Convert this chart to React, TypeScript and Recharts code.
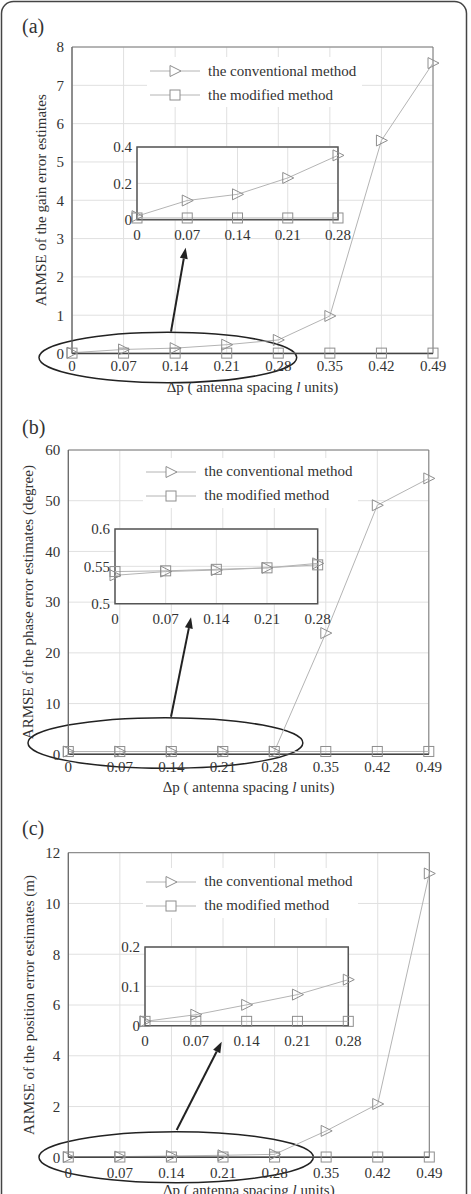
import React from 'react';
import {
  LineChart,
  Line,
  XAxis,
  YAxis,
  CartesianGrid,
  ReferenceArea,
  ReferenceLine,
  Legend,
  Label,
} from 'recharts';

const FONT = '"Liberation Serif", "Times New Roman", Times, serif';
const INK = '#333333';
const GRID = '#e0e0e0';
const SERIES_LINE = '#b4b4b4';
const SERIES_MARK = '#8e8e8e';

// antenna spacing (l units)
const spacing = [0, 0.07, 0.14, 0.21, 0.28, 0.35, 0.42, 0.49];
const zoomSpacing = [0, 0.07, 0.14, 0.21, 0.28];
const seriesNames = ['the conventional method', 'the modified method'];

// (a) gain error
const gainConventional = [0.02, 0.106, 0.14, 0.23, 0.354, 0.98, 5.56, 7.58];
const gainModified = [0.01, 0.01, 0.01, 0.01, 0.01, 0.01, 0.01, 0.01];
const gainTicks = [0, 1, 2, 3, 4, 5, 6, 7, 8];
const gainZoomTicks = [0, 0.2, 0.4];

// (b) phase error (degree)
const phaseConventional = [0.538, 0.543, 0.545, 0.548, 0.554, 23.9, 49.1, 54.4];
const phaseModified = [0.543, 0.544, 0.546, 0.548, 0.552, 0.555, 0.557, 0.56];
const phaseTicks = [0, 10, 20, 30, 40, 50, 60];
const phaseZoomTicks = [0.5, 0.55, 0.6];

// (c) position error (m)
const positionConventional = [0.011, 0.028, 0.053, 0.079, 0.117, 1.04, 2.1, 11.18];
const positionModified = [0.011, 0.011, 0.011, 0.011, 0.011, 0.011, 0.011, 0.011];
const positionTicks = [0, 2, 4, 6, 8, 10, 12];
const positionZoomTicks = [0, 0.1, 0.2];

const makeRows = (conv: number[], mod: number[]) =>
  spacing.map((x, i) => ({ x, conventional: conv[i], modified: mod[i] }));

type Pt = { x: number; y: number };
type Panel = {
  tag: string;
  tagY: number;
  yTitle: string;
  yTitleX: number;
  conventional: number[];
  modified: number[];
  yTicks: number[];
  zoomTicks: number[];
  top: number;
  height: number;
  plot: { left: number; right: number; top: number; bottom: number };
  xTickMargin: number;
  legendTop: number;
  zoom: { left: number; right: number; top: number; bottom: number };
  ring: { x1: number; x2: number; y1: number; y2: number };
  arrow: [Pt, Pt];
};

const panels: Panel[] = [
  {
    tag: '(a)',
    tagY: 33,
    yTitle: 'ARMSE of the gain error estimates',
    yTitleX: 45.5,
    conventional: gainConventional,
    modified: gainModified,
    yTicks: gainTicks,
    zoomTicks: gainZoomTicks,
    top: 0,
    height: 400,
    plot: { left: 72, right: 433, top: 47, bottom: 353.5 },
    xTickMargin: 7,
    legendTop: 57,
    zoom: { left: 136.7, right: 337.7, top: 146.7, bottom: 219.5 },
    ring: { x1: -0.0448, x2: 0.305, y1: -0.762, y2: 0.553 },
    arrow: [
      { x: 0.1344, y: 0.569 },
      { x: 0.1543, y: 2.762 },
    ],
  },
  {
    tag: '(b)',
    tagY: 434.3,
    yTitle: 'ARMSE of the phase error estimates (degree)',
    yTitleX: 33.5,
    conventional: phaseConventional,
    modified: phaseModified,
    yTicks: phaseTicks,
    zoomTicks: phaseZoomTicks,
    top: 400,
    height: 400,
    plot: { left: 68.3, right: 428.8, top: 450, bottom: 754.3 },
    xTickMargin: 7,
    legendTop: 57.7,
    zoom: { left: 115, right: 317.7, top: 529.3, bottom: 604 },
    ring: { x1: -0.0548, x2: 0.3188, y1: -2.76, y2: 7.22 },
    arrow: [
      { x: 0.1396, y: 7.41 },
      { x: 0.1668, y: 27.01 },
    ],
  },
  {
    tag: '(c)',
    tagY: 835,
    yTitle: 'ARMSE of the position error estimates (m)',
    yTitleX: 33.5,
    conventional: positionConventional,
    modified: positionModified,
    yTicks: positionTicks,
    zoomTicks: positionZoomTicks,
    top: 800,
    height: 410,
    plot: { left: 68.3, right: 429.3, top: 852.7, bottom: 1157.3 },
    xTickMargin: 10,
    legendTop: 67.7,
    zoom: { left: 145, right: 348.3, top: 947.3, bottom: 1026 },
    ring: { x1: -0.0398, x2: 0.3326, y1: -1.0, y2: 1.009 },
    arrow: [
      { x: 0.1471, y: 1.076 },
      { x: 0.2082, y: 4.555 },
    ],
  },
];

const tickStyle = { fill: INK, fontSize: 15, fontFamily: FONT };
const fmt = (v: number) => String(v);

function triangleAt(cx: number, cy: number) {
  return `${cx - 5},${cy - 5.5} ${cx - 5},${cy + 5.5} ${cx + 6},${cy}`;
}

const renderTriangle = (p: any) => {
  if (p.cx == null || p.cy == null) return <g key={`t-${p.index}`} />;
  return (
    <polygon
      key={`t-${p.index}`}
      points={triangleAt(p.cx, p.cy)}
      fill="none"
      stroke={SERIES_MARK}
      strokeWidth={1}
    />
  );
};

const renderSquare = (p: any) => {
  if (p.cx == null || p.cy == null) return <g key={`s-${p.index}`} />;
  return (
    <rect
      key={`s-${p.index}`}
      x={p.cx - 5}
      y={p.cy - 5}
      width={10}
      height={10}
      fill="none"
      stroke={SERIES_MARK}
      strokeWidth={1}
    />
  );
};

const RingShape = (p: any) => (
  <ellipse
    cx={p.x + p.width / 2}
    cy={p.y + p.height / 2}
    rx={Math.abs(p.width) / 2}
    ry={Math.abs(p.height) / 2}
    fill="none"
    stroke="#222"
    strokeWidth={1.5}
  />
);

const ArrowShape = (p: any) => {
  const { x1, y1, x2, y2 } = p;
  const dx = x2 - x1;
  const dy = y2 - y1;
  const len = Math.sqrt(dx * dx + dy * dy) || 1;
  const ux = dx / len;
  const uy = dy / len;
  const head = 11;
  const half = 4;
  const bx = x2 - ux * head;
  const by = y2 - uy * head;
  return (
    <g>
      <line x1={x1} y1={y1} x2={bx} y2={by} stroke="#222" strokeWidth={2} />
      <polygon
        points={`${x2},${y2} ${bx - uy * half},${by + ux * half} ${bx + uy * half},${by - ux * half}`}
        fill="#222"
      />
    </g>
  );
};

function LegendBox() {
  return (
    <div
      style={{
        width: '100%',
        height: '100%',
        background: '#fff',
        position: 'relative',
        fontFamily: FONT,
        fontSize: 15,
        color: INK,
      }}
    >
      {seriesNames.map((name, i) => (
        <div
          key={name}
          style={{
            position: 'absolute',
            left: 0,
            top: 2 + i * 24,
            height: 24,
            display: 'flex',
            alignItems: 'center',
            whiteSpace: 'nowrap',
          }}
        >
          <svg width={56} height={24} style={{ display: 'block' }}>
            <line x1={3} y1={12} x2={53} y2={12} stroke={SERIES_LINE} strokeWidth={1} />
            {i === 0 ? (
              <polygon points={triangleAt(28, 12)} fill="#fff" stroke={SERIES_MARK} />
            ) : (
              <rect x={23} y={7} width={10} height={10} fill="#fff" stroke={SERIES_MARK} />
            )}
          </svg>
          <span style={{ marginLeft: 5 }}>{name}</span>
        </div>
      ))}
    </div>
  );
}

function MainChart({ cfg }: { cfg: Panel }) {
  const width = 471;
  const { plot } = cfg;
  const xAxisH = 45;
  const margin = {
    top: plot.top - cfg.top,
    right: width - plot.right,
    left: 0,
    bottom: cfg.top + cfg.height - plot.bottom - xAxisH,
  };
  const rows = makeRows(cfg.conventional, cfg.modified);
  const yMin = cfg.yTicks[0];
  const yMax = cfg.yTicks[cfg.yTicks.length - 1];
  const xMax = spacing[spacing.length - 1];

  const xTitle = (p: any) => {
    const vb = p.viewBox || { x: plot.left, y: plot.bottom - cfg.top, width: plot.right - plot.left };
    return (
      <text
        x={vb.x + vb.width / 2}
        y={vb.y + 38}
        textAnchor="middle"
        fill={INK}
        fontSize={15}
        fontFamily={FONT}
      >
        {'Δp ( antenna spacing '}
        <tspan fontStyle="italic">l</tspan>
        {' units)'}
      </text>
    );
  };

  const yTitle = (p: any) => {
    const vb = p.viewBox || { x: 0, y: plot.top - cfg.top, height: plot.bottom - plot.top };
    const cx = vb.x + cfg.yTitleX;
    const cy = vb.y + vb.height / 2;
    return (
      <text
        x={cx}
        y={cy}
        transform={`rotate(-90, ${cx}, ${cy})`}
        textAnchor="middle"
        fill={INK}
        fontSize={15}
        fontFamily={FONT}
      >
        {cfg.yTitle}
      </text>
    );
  };

  return (
    <div style={{ position: 'absolute', left: 0, top: cfg.top, width, height: cfg.height }}>
      <LineChart width={width} height={cfg.height} data={rows} margin={margin}>
        <CartesianGrid stroke={GRID} />
        <XAxis
          dataKey="x"
          type="number"
          domain={[0, xMax]}
          ticks={spacing}
          interval={0}
          tickFormatter={fmt}
          tick={tickStyle}
          tickLine={false}
          tickSize={0}
          tickMargin={cfg.xTickMargin}
          axisLine={{ stroke: '#444', strokeWidth: 1.5 }}
          height={xAxisH}
        >
          <Label content={xTitle} />
        </XAxis>
        <YAxis
          type="number"
          domain={[yMin, yMax]}
          ticks={cfg.yTicks}
          interval={0}
          tickFormatter={fmt}
          tick={tickStyle}
          tickLine={false}
          tickSize={0}
          tickMargin={8}
          axisLine={{ stroke: '#666', strokeWidth: 1 }}
          width={plot.left}
        >
          <Label content={yTitle} />
        </YAxis>
        <ReferenceArea
          x1={0}
          x2={xMax}
          y1={yMin}
          y2={yMax}
          fill="none"
          stroke="#7a7a7a"
          strokeWidth={1}
          ifOverflow="visible"
        />
        <Line
          type="linear"
          dataKey="conventional"
          name={seriesNames[0]}
          stroke={SERIES_LINE}
          strokeWidth={1}
          dot={renderTriangle}
          activeDot={false}
          isAnimationActive={false}
        />
        <Line
          type="linear"
          dataKey="modified"
          name={seriesNames[1]}
          stroke={SERIES_LINE}
          strokeWidth={1}
          dot={renderSquare}
          activeDot={false}
          isAnimationActive={false}
        />
        <ReferenceArea
          x1={cfg.ring.x1}
          x2={cfg.ring.x2}
          y1={cfg.ring.y1}
          y2={cfg.ring.y2}
          ifOverflow="visible"
          shape={RingShape}
        />
        <ReferenceLine segment={cfg.arrow} ifOverflow="visible" shape={ArrowShape} />
        <Legend
          layout="horizontal"
          verticalAlign="middle"
          align="center"
          content={() => <LegendBox />}
          wrapperStyle={{
            left: plot.left + 75,
            top: cfg.legendTop,
            width: 215,
            height: 50,
            bottom: 'auto',
            right: 'auto',
          }}
        />
      </LineChart>
    </div>
  );
}

function ZoomChart({ cfg }: { cfg: Panel }) {
  const z = cfg.zoom;
  const padL = 60;
  const padT = 12;
  const padR = 22;
  const padB = 32;
  const w = z.right - z.left + padL + padR;
  const h = z.bottom - z.top + padT + padB;
  const rows = makeRows(cfg.conventional, cfg.modified).slice(0, zoomSpacing.length);
  const yMin = cfg.zoomTicks[0];
  const yMax = cfg.zoomTicks[cfg.zoomTicks.length - 1];
  const xMax = zoomSpacing[zoomSpacing.length - 1];
  return (
    <div style={{ position: 'absolute', left: z.left - padL, top: z.top - padT, width: w, height: h }}>
      <LineChart width={w} height={h} data={rows} margin={{ top: padT, right: padR, left: 0, bottom: 0 }}>
        <CartesianGrid stroke={GRID} fill="#fff" />
        <XAxis
          dataKey="x"
          type="number"
          domain={[0, xMax]}
          ticks={zoomSpacing}
          interval={0}
          tickFormatter={fmt}
          tick={tickStyle}
          tickLine={false}
          tickSize={0}
          tickMargin={10}
          axisLine={false}
          height={padB}
        />
        <YAxis
          type="number"
          domain={[yMin, yMax]}
          ticks={cfg.zoomTicks}
          interval={0}
          tickFormatter={fmt}
          tick={tickStyle}
          tickLine={false}
          tickSize={0}
          tickMargin={5}
          axisLine={false}
          width={padL}
        />
        <Line
          type="linear"
          dataKey="conventional"
          stroke={SERIES_LINE}
          strokeWidth={1}
          dot={renderTriangle}
          activeDot={false}
          isAnimationActive={false}
        />
        <Line
          type="linear"
          dataKey="modified"
          stroke={SERIES_LINE}
          strokeWidth={1}
          dot={renderSquare}
          activeDot={false}
          isAnimationActive={false}
        />
        <ReferenceArea
          x1={0}
          x2={xMax}
          y1={yMin}
          y2={yMax}
          fill="none"
          stroke="#555"
          strokeWidth={1.5}
          ifOverflow="visible"
        />
      </LineChart>
    </div>
  );
}

export default function App() {
  return (
    <div
      style={{
        position: 'absolute',
        left: 0,
        top: 0,
        width: 471,
        height: 1194,
        overflow: 'hidden',
        background: '#fff',
        fontFamily: FONT,
      }}
    >
      <svg width={471} height={1194} style={{ position: 'absolute', left: 0, top: 0 }}>
        <rect x={1.5} y={1.5} width={465} height={1230} rx={12} ry={12} fill="none" stroke="#444" strokeWidth={1.5} />
        {panels.map((p) => (
          <text key={p.tag} x={22} y={p.tagY} fontSize={20} fontFamily={FONT} fill={INK}>
            {p.tag}
          </text>
        ))}
      </svg>
      {panels.map((p) => (
        <MainChart key={`m-${p.tag}`} cfg={p} />
      ))}
      {panels.map((p) => (
        <ZoomChart key={`z-${p.tag}`} cfg={p} />
      ))}
    </div>
  );
}
